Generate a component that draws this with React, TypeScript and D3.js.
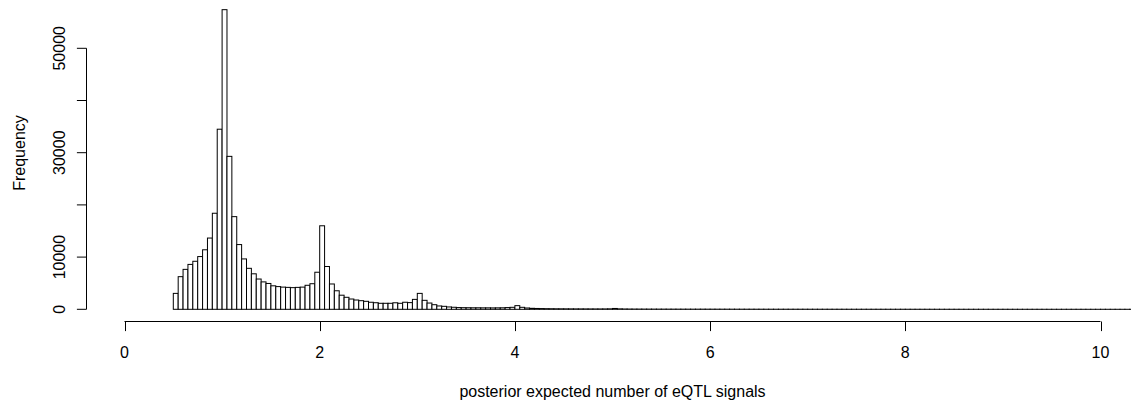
import React from "react";
import * as d3 from "d3";

// Histogram of posterior expected number of eQTL signals (bin width 0.05, starting at 0.5)
const binStart = 0.5;
const binWidth = 0.05;
const counts: number[] = [
  // 0.50 - 0.95
  3050, 6250, 7650, 8600, 9200, 10100, 11400, 13650, 18400, 34500,
  // 1.00 - 1.45
  57400, 29300, 17750, 12400, 9650, 7850, 6800, 5800, 5250, 4950,
  // 1.50 - 1.95
  4500, 4350, 4250, 4200, 4150, 4200, 4250, 4600, 4900, 7100,
  // 2.00 - 2.45
  16000, 8200, 4850, 3550, 2700, 2300, 1970, 1780, 1650, 1530,
  // 2.50 - 2.95
  1350, 1260, 1150, 1150, 1150, 1250, 1150, 1350, 1280, 1900,
  // 3.00 - 3.45
  3050, 1720, 1200, 880, 640, 570, 450, 390, 330, 310,
  // 3.50 - 3.95
  300, 290, 290, 280, 280, 270, 280, 290, 330, 380,
  // 4.00 - 4.45
  700, 380, 250, 190, 160, 140, 120, 110, 100, 95,
  // 4.50 - 4.95
  90, 85, 80, 78, 75, 72, 70, 70, 75, 90,
  // 5.00 - 5.20
  160, 85, 60, 50, 45,
  // 5.25 - 5.70
  42, 40, 38, 36, 34, 33, 31, 30, 29, 28,
  // 5.75 - 6.20
  27, 26, 26, 28, 25, 24, 23, 22, 22, 21,
  // 6.25 - 6.70
  20, 20, 19, 19, 18, 18, 17, 17, 16, 16,
  // 6.75 - 7.20
  16, 15, 15, 15, 16, 14, 14, 13, 13, 13,
  // 7.25 - 7.70
  12, 12, 12, 11, 11, 11, 11, 10, 10, 10,
  // 7.75 - 8.20
  10, 9, 9, 9, 10, 9, 8, 8, 8, 8,
  // 8.25 - 8.70
  8, 7, 7, 7, 7, 7, 6, 6, 6, 6,
  // 8.75 - 9.20
  6, 6, 5, 5, 5, 6, 5, 5, 4, 4,
  // 9.25 - 9.70
  4, 4, 4, 4, 3, 3, 3, 3, 3, 3,
  // 9.75 - 10.20
  3, 3, 2, 2, 2, 3, 2, 2, 2, 2,
  // 10.25 - 10.30
  2, 1,
];

const xTicks = [0, 2, 4, 6, 8, 10];
const yTicks = [0, 10000, 20000, 30000, 40000, 50000];
const yTickLabels = [0, 10000, 30000, 50000];

const xLabel = "posterior expected number of eQTL signals";
const yLabel = "Frequency";

const W = 1131;
const H = 402;
const FONT = "'Liberation Sans', Arial, Helvetica, sans-serif";

export default function App() {
  const x = d3.scaleLinear().domain([0, 10]).range([124.5, 1100.5]);
  const y = d3.scaleLinear().domain([0, 50000]).range([309.3, 48.3]);

  const bins = counts.map((c, i) => {
    const x0 = binStart + i * binWidth;
    return { x0, x1: x0 + binWidth, c };
  });

  const xAxisY = 321.5;
  const yAxisX = 86.5;
  const tickLen = 9.6;

  return (
    <svg
      width={W}
      height={H}
      style={{ position: "absolute", left: 0, top: 0, background: "#fff" }}
      fontFamily={FONT}
    >
      <rect x={0} y={0} width={W} height={H} fill="#fff" />
      <g>
        {bins.map((b, i) => (
          <rect
            key={i}
            x={x(b.x0)}
            y={y(b.c)}
            width={x(b.x1) - x(b.x0)}
            height={y(0) - y(b.c)}
            fill="#fff"
            stroke="#000"
            strokeWidth={1}
          />
        ))}
      </g>

      {/* x axis */}
      <g>
        <line x1={x(xTicks[0])} x2={x(xTicks[xTicks.length - 1])} y1={xAxisY} y2={xAxisY} stroke="#000" strokeWidth={1} />
        {xTicks.map((t) => (
          <g key={t}>
            <line x1={Math.round(x(t)) + 0.5} x2={Math.round(x(t)) + 0.5} y1={xAxisY} y2={xAxisY + tickLen} stroke="#000" strokeWidth={1} />
            <text x={x(t)} y={358.3} textAnchor="middle" fontSize={16} fill="#000">
              {t}
            </text>
          </g>
        ))}
        <text x={x(5)} y={396.5} textAnchor="middle" fontSize={16} fill="#000">
          {xLabel}
        </text>
      </g>

      {/* y axis */}
      <g>
        <line x1={yAxisX} x2={yAxisX} y1={y(yTicks[0])} y2={y(yTicks[yTicks.length - 1])} stroke="#000" strokeWidth={1} />
        {yTicks.map((t) => (
          <line key={t} x1={yAxisX - tickLen} x2={yAxisX} y1={y(t)} y2={y(t)} stroke="#000" strokeWidth={1} />
        ))}
        {yTickLabels.map((t) => (
          <text
            key={t}
            transform={`translate(${64.5},${y(t)}) rotate(-90)`}
            textAnchor="middle"
            fontSize={16}
            fill="#000"
          >
            {t}
          </text>
        ))}
        <text transform={`translate(${24.5},${153}) rotate(-90)`} textAnchor="middle" fontSize={16} fill="#000">
          {yLabel}
        </text>
      </g>
    </svg>
  );
}
